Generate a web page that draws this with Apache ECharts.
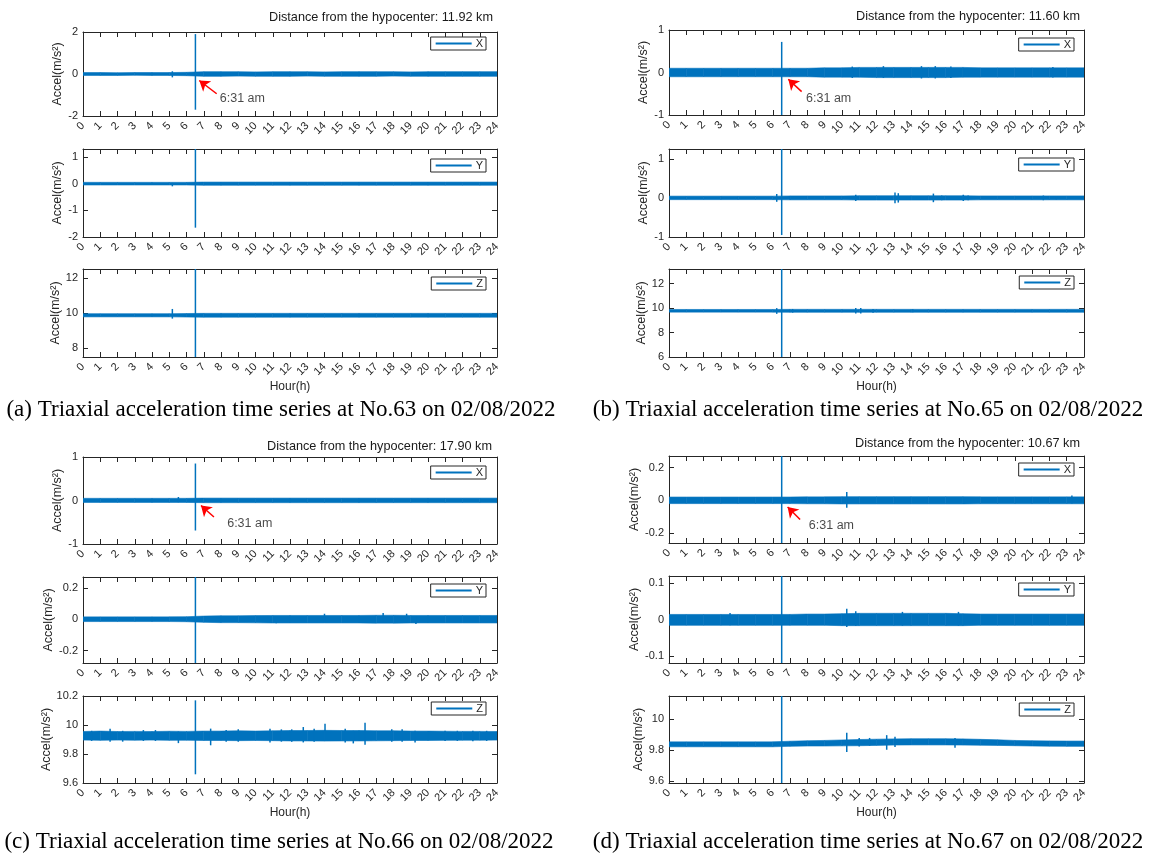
<!DOCTYPE html>
<html><head><meta charset="utf-8">
<script src="https://cdn.jsdelivr.net/npm/echarts@6/dist/echarts.min.js"></script>
<style>html,body{margin:0;padding:0;background:#fff}#c{width:1159px;height:857px}</style>
</head><body><div id="c"></div>
<script>
// ---------------- DATA ----------------
const HOURS = [0,1,2,3,4,5,6,7,8,9,10,11,12,13,14,15,16,17,18,19,20,21,22,23,24];
const X_TICKS = [0,1,2,3,4,5,6,7,8,9,10,11,12,13,14,15,16,17,18,19,20,21,22,23,24];

// Station No.63
const A_X_UP = [0.07,0.07,0.06,0.07,0.07,0.07,0.08,0.11,0.11,0.11,0.10,0.11,0.11,0.11,0.10,0.11,0.11,0.11,0.11,0.10,0.11,0.11,0.11,0.11,0.11];
const A_X_LO = [-0.07,-0.07,-0.07,-0.06,-0.07,-0.07,-0.08,-0.11,-0.11,-0.10,-0.11,-0.11,-0.11,-0.10,-0.11,-0.11,-0.11,-0.11,-0.10,-0.11,-0.11,-0.11,-0.11,-0.11,-0.11];
const A_X_BURSTS = [[5.18,-0.16,0.13],[6.517,-1.7,1.9]];
const A_Y_UP = [0.05,0.05,0.05,0.05,0.05,0.05,0.05,0.06,0.06,0.06,0.06,0.06,0.06,0.06,0.06,0.06,0.06,0.06,0.06,0.06,0.06,0.06,0.06,0.06,0.06];
const A_Y_LO = [-0.05,-0.05,-0.05,-0.05,-0.05,-0.05,-0.05,-0.06,-0.06,-0.06,-0.06,-0.06,-0.06,-0.06,-0.06,-0.06,-0.06,-0.06,-0.06,-0.06,-0.06,-0.06,-0.06,-0.06,-0.06];
const A_Y_BURSTS = [[5.18,-0.1,0.03],[6.517,-1.65,1.3]];
const A_Z_UP = [9.96,9.96,9.96,9.96,9.96,9.96,9.97,9.98,9.98,9.98,9.98,9.98,9.98,9.98,9.98,9.98,9.98,9.98,9.98,9.98,9.98,9.98,9.98,9.98,9.98];
const A_Z_LO = [9.78,9.78,9.78,9.78,9.78,9.78,9.77,9.76,9.76,9.76,9.76,9.76,9.76,9.76,9.76,9.76,9.76,9.76,9.76,9.76,9.76,9.76,9.76,9.76,9.76];
const A_Z_BURSTS = [[5.18,9.68,10.23],[6.517,7.5,12.5]];

// Station No.65
const B_X_UP = [0.10,0.10,0.10,0.10,0.10,0.10,0.10,0.10,0.10,0.11,0.11,0.12,0.12,0.12,0.12,0.12,0.12,0.12,0.11,0.11,0.11,0.11,0.11,0.11,0.11];
const B_X_LO = [-0.10,-0.10,-0.10,-0.10,-0.10,-0.10,-0.10,-0.10,-0.10,-0.11,-0.11,-0.11,-0.12,-0.12,-0.12,-0.12,-0.12,-0.11,-0.11,-0.11,-0.11,-0.11,-0.11,-0.11,-0.11];
const B_X_BURSTS = [[6.517,-1.0,0.72],[10.6,-0.13,0.14],[12.4,-0.13,0.15],[14.6,-0.14,0.15],[15.4,-0.14,0.15],[16.3,-0.13,0.14],[22.2,-0.12,0.13]];
const B_Y_UP = [0.045,0.045,0.045,0.045,0.045,0.045,0.045,0.05,0.05,0.05,0.05,0.055,0.055,0.055,0.055,0.055,0.055,0.055,0.05,0.05,0.05,0.05,0.05,0.05,0.05];
const B_Y_LO = [-0.045,-0.045,-0.045,-0.045,-0.045,-0.045,-0.045,-0.05,-0.05,-0.05,-0.05,-0.055,-0.055,-0.055,-0.055,-0.055,-0.055,-0.055,-0.05,-0.05,-0.05,-0.05,-0.05,-0.05,-0.05];
const B_Y_BURSTS = [[6.23,-0.1,0.1],[6.517,-0.95,1.25],[10.8,-0.08,0.08],[13.07,-0.14,0.14],[13.26,-0.12,0.12],[15.29,-0.11,0.11],[15.77,-0.06,0.06],[17.02,-0.08,0.08],[17.3,-0.06,0.06],[21.65,-0.06,0.06],[22.4,-0.04,0.04]];
const B_Z_UP = [9.89,9.89,9.89,9.89,9.89,9.89,9.89,9.9,9.9,9.9,9.9,9.9,9.9,9.9,9.9,9.9,9.9,9.9,9.9,9.9,9.9,9.9,9.9,9.9,9.9];
const B_Z_LO = [9.67,9.67,9.67,9.67,9.67,9.67,9.67,9.66,9.66,9.66,9.66,9.66,9.66,9.66,9.66,9.66,9.66,9.66,9.66,9.66,9.66,9.66,9.66,9.66,9.66];
const B_Z_BURSTS = [[6.23,9.53,10.0],[6.517,6.0,13.2],[7.15,9.63,9.93],[10.8,9.55,10.0],[11.09,9.55,10.0],[11.8,9.63,9.93],[14.1,9.66,9.9]];

// Station No.66
const C_X_UP = [0.05,0.05,0.05,0.05,0.05,0.05,0.05,0.055,0.055,0.055,0.055,0.055,0.055,0.055,0.055,0.055,0.055,0.055,0.055,0.055,0.055,0.055,0.055,0.055,0.055];
const C_X_LO = [-0.045,-0.045,-0.045,-0.045,-0.045,-0.045,-0.045,-0.05,-0.05,-0.05,-0.05,-0.05,-0.05,-0.05,-0.05,-0.05,-0.05,-0.05,-0.05,-0.05,-0.05,-0.05,-0.05,-0.05,-0.05];
const C_X_BURSTS = [[5.53,-0.04,0.08],[6.517,-0.69,0.85]];
const C_Y_UP = [0.015,0.015,0.015,0.015,0.015,0.015,0.016,0.02,0.022,0.022,0.023,0.024,0.024,0.024,0.024,0.024,0.024,0.025,0.025,0.024,0.024,0.024,0.024,0.024,0.024];
const C_Y_LO = [-0.015,-0.015,-0.015,-0.015,-0.015,-0.015,-0.016,-0.02,-0.022,-0.022,-0.023,-0.024,-0.024,-0.024,-0.024,-0.024,-0.024,-0.025,-0.025,-0.024,-0.024,-0.024,-0.024,-0.024,-0.024];
const C_Y_BURSTS = [[6.517,-0.28,0.27],[11.2,-0.026,0.02],[14.0,-0.02,0.035],[17.4,-0.02,0.04],[18.76,-0.02,0.035],[19.3,-0.03,0.02]];
const C_Z_UP = [9.955,9.958,9.955,9.956,9.955,9.957,9.956,9.958,9.958,9.96,9.958,9.96,9.962,9.962,9.963,9.962,9.962,9.96,9.96,9.958,9.958,9.957,9.956,9.956,9.955];
const C_Z_LO = [9.896,9.894,9.896,9.895,9.896,9.894,9.895,9.893,9.893,9.892,9.893,9.892,9.89,9.89,9.889,9.89,9.89,9.891,9.892,9.893,9.893,9.894,9.895,9.895,9.896];
const C_Z_BURSTS = [[0.5,9.89,9.96],[1.57,9.884,9.975],[2.3,9.885,9.96],[3.5,9.89,9.965],[4.2,9.89,9.965],[5.53,9.875,9.955],[6.517,9.66,10.17],[7.4,9.86,9.975],[8.3,9.885,9.965],[9.0,9.884,9.97],[10.84,9.88,9.975],[11.5,9.885,9.97],[12.1,9.884,9.97],[12.77,9.88,9.986],[13.4,9.885,9.975],[14.03,9.89,10.009],[15.2,9.88,9.975],[15.67,9.873,9.96],[16.35,9.864,10.016],[17.9,9.884,9.97],[18.5,9.885,9.97],[19.25,9.88,9.96],[20.99,9.89,9.96],[21.7,9.89,9.96],[22.6,9.888,9.96],[23.4,9.89,9.96]];

// Station No.67
const D_X_UP = [0.02,0.02,0.02,0.02,0.02,0.02,0.02,0.02,0.021,0.021,0.022,0.022,0.022,0.022,0.022,0.022,0.022,0.022,0.021,0.021,0.021,0.021,0.021,0.021,0.021];
const D_X_LO = [-0.02,-0.02,-0.02,-0.02,-0.02,-0.02,-0.02,-0.02,-0.021,-0.021,-0.022,-0.022,-0.022,-0.022,-0.022,-0.022,-0.022,-0.022,-0.021,-0.021,-0.021,-0.021,-0.021,-0.021,-0.021];
const D_X_BURSTS = [[6.517,-0.26,0.27],[10.28,-0.045,0.051],[23.3,-0.02,0.03]];
const D_Y_UP = [0.014,0.014,0.014,0.014,0.014,0.014,0.014,0.014,0.015,0.015,0.016,0.017,0.017,0.017,0.017,0.017,0.017,0.016,0.015,0.015,0.015,0.015,0.015,0.015,0.015];
const D_Y_LO = [-0.016,-0.016,-0.016,-0.016,-0.016,-0.016,-0.016,-0.016,-0.016,-0.016,-0.017,-0.017,-0.017,-0.017,-0.017,-0.017,-0.017,-0.017,-0.016,-0.016,-0.016,-0.016,-0.016,-0.016,-0.016];
const D_Y_BURSTS = [[3.53,-0.016,0.018],[6.517,-0.12,0.12],[10.28,-0.021,0.03],[10.8,-0.017,0.023],[13.5,-0.017,0.021],[16.74,-0.017,0.021]];
const D_Z_UP = [9.855,9.855,9.855,9.855,9.855,9.855,9.855,9.859,9.862,9.864,9.867,9.87,9.872,9.874,9.875,9.875,9.875,9.874,9.871,9.868,9.864,9.862,9.861,9.86,9.86];
const D_Z_LO = [9.823,9.823,9.823,9.823,9.823,9.823,9.823,9.826,9.828,9.828,9.829,9.83,9.832,9.834,9.835,9.835,9.835,9.834,9.833,9.832,9.83,9.828,9.827,9.826,9.826];
const D_Z_BURSTS = [[6.517,9.59,10.15],[10.28,9.789,9.913],[11.0,9.825,9.88],[11.6,9.83,9.88],[12.59,9.804,9.898],[13.07,9.822,9.887],[16.54,9.817,9.88]];

// axis ranges and tick labels
const Y_RANGES = [[-2,2],[-2,1.3],[7.5,12.5],[-1,1],[-1,1.25],[6,13.2],[-1,1],[-0.28,0.27],[9.6,10.2],[-0.26,0.27],[-0.12,0.12],[9.59,10.15]];
const Y_TICKS = [[-2,0,2],[-2,-1,0,1],[8,10,12],[-1,0,1],[-1,0,1],[6,8,10,12],[-1,0,1],[-0.2,0,0.2],[9.6,9.8,10,10.2],[-0.2,0,0.2],[-0.1,0,0.1],[9.6,9.8,10]];
const AXIS_NAMES = ['X','Y','Z','X','Y','Z','X','Y','Z','X','Y','Z'];
const DISTANCES = ['11.92','11.60','17.90','10.67'];
const STATIONS = ['63','65','66','67'];
const PANEL_LETTERS = ['a','b','c','d'];
const QUAKE_LABEL = '6:31 am';
// annotation arrows [tailHour, tailValue, headHour, headValue], label anchor [hour, value]
const ARROWS = [[7.75,-0.94,6.74,-0.31],[7.67,-0.45,6.9,-0.16],[7.59,-0.38,6.84,-0.115],[7.58,-0.117,6.86,-0.041]];
const ARROW_LABELS = [[7.9,-1.18],[7.9,-0.61],[8.33,-0.54],[8.06,-0.152]];

const UPS = [A_X_UP,A_Y_UP,A_Z_UP,B_X_UP,B_Y_UP,B_Z_UP,C_X_UP,C_Y_UP,C_Z_UP,D_X_UP,D_Y_UP,D_Z_UP];
const LOS = [A_X_LO,A_Y_LO,A_Z_LO,B_X_LO,B_Y_LO,B_Z_LO,C_X_LO,C_Y_LO,C_Z_LO,D_X_LO,D_Y_LO,D_Z_LO];
const BURSTS = [A_X_BURSTS,A_Y_BURSTS,A_Z_BURSTS,B_X_BURSTS,B_Y_BURSTS,B_Z_BURSTS,C_X_BURSTS,C_Y_BURSTS,C_Z_BURSTS,D_X_BURSTS,D_Y_BURSTS,D_Z_BURSTS];

// ---------------- LAYOUT / STYLE ----------------
const COLOR = '#0072BD';
const AXC = '#262626';
const FONT = '"Liberation Sans", Arial, sans-serif';
const SERIF = '"Liberation Serif", "Times New Roman", serif';
const GRIDS = [
  {left:83, top:32, width:414, height:84, nameGap:16, legTop:5},
  {left:83, top:149, width:414, height:88, nameGap:16, legTop:10},
  {left:83, top:269, width:414, height:88, nameGap:18, legTop:8},
  {left:669, top:30, width:415, height:85, nameGap:14, legTop:8},
  {left:669, top:149, width:415, height:88, nameGap:14, legTop:9},
  {left:669, top:269, width:415, height:88, nameGap:15, legTop:7},
  {left:83, top:457, width:414, height:87, nameGap:16, legTop:9},
  {left:83, top:577, width:414, height:86, nameGap:24, legTop:7},
  {left:83, top:696, width:414, height:87, nameGap:28, legTop:6},
  {left:669, top:456, width:415, height:87, nameGap:24, legTop:7},
  {left:669, top:576, width:415, height:87, nameGap:24, legTop:7},
  {left:669, top:696, width:415, height:87, nameGap:17, legTop:7}
];
const DIST_POS = [[493,17],[1080,16],[492,446],[1080,443]];
const CAPTION_POS = [[281,410],[868,410],[279,842],[868,842]];

function bandItem(params, api) {
  const p0 = api.coord([api.value(0), api.value(1)]);
  const p1 = api.coord([api.value(0), api.value(2)]);
  const p2 = api.coord([api.value(3), api.value(5)]);
  const p3 = api.coord([api.value(3), api.value(4)]);
  return {type:'polygon', shape:{points:[p0,p1,p2,p3]}, style:{fill:COLOR, stroke:COLOR, lineWidth:0.6}};
}
function burstItem(params, api) {
  const a = api.coord([api.value(0), api.value(1)]);
  const b = api.coord([api.value(0), api.value(2)]);
  return {type:'line', shape:{x1:a[0], y1:a[1], x2:b[0], y2:b[1]}, style:{stroke:COLOR, lineWidth:1.5}};
}

const option = {animation:false, grid:[], xAxis:[], yAxis:[], series:[], legend:[], graphic:[]};

GRIDS.forEach((g, i) => {
  option.grid.push({left:g.left, top:g.top, width:g.width, height:g.height, outerBoundsMode:'none', containLabel:false});
  const isBottom = (i % 3) === 2;
  const axLine = {show:true, onZero:false, lineStyle:{color:AXC, width:1}};
  option.xAxis.push({
    gridIndex:i, type:'value', min:0, max:24, interval:1, position:'bottom',
    axisLine:axLine, axisTick:{show:true, inside:true, length:5, lineStyle:{color:AXC}},
    axisLabel:{rotate:45, fontSize:11, color:AXC, margin:8, fontFamily:FONT, customValues:X_TICKS},
    splitLine:{show:false},
    name: isBottom ? 'Hour(h)' : '', nameLocation:'middle', nameGap:24,
    nameTextStyle:{fontSize:12, color:AXC, fontFamily:FONT}
  });
  option.xAxis.push({
    gridIndex:i, type:'value', min:0, max:24, interval:1, position:'top',
    axisLine:axLine, axisTick:{show:true, inside:true, length:5, lineStyle:{color:AXC}},
    axisLabel:{show:false}, splitLine:{show:false}
  });
  const r = Y_RANGES[i], t = Y_TICKS[i];
  option.yAxis.push({
    gridIndex:i, type:'value', min:r[0], max:r[1], position:'left',
    axisLine:axLine, axisTick:{show:true, inside:true, length:5, customValues:t, lineStyle:{color:AXC}},
    axisLabel:{customValues:t, fontSize:11, color:AXC, margin:5, fontFamily:FONT},
    splitLine:{show:false},
    name:'Accel(m/s²)', nameLocation:'middle', nameRotate:90, nameGap:g.nameGap,
    nameTextStyle:{fontSize:12.5, color:AXC, fontFamily:FONT}
  });
  option.yAxis.push({
    gridIndex:i, type:'value', min:r[0], max:r[1], position:'right',
    axisLine:axLine, axisTick:{show:true, inside:true, length:5, customValues:t, lineStyle:{color:AXC}},
    axisLabel:{show:false}, splitLine:{show:false}
  });
  const up = UPS[i], lo = LOS[i];
  const band = [];
  for (let k = 0; k < HOURS.length - 1; k++) {
    band.push([HOURS[k], lo[k], up[k], HOURS[k+1], lo[k+1], up[k+1]]);
  }
  option.series.push({
    type:'custom', name:AXIS_NAMES[i], xAxisIndex:2*i, yAxisIndex:2*i, clip:true, silent:true,
    renderItem:bandItem, data:band, encode:{x:[0,3], y:[1,2,4,5]}, itemStyle:{color:COLOR}
  });
  option.series.push({
    type:'custom', name:AXIS_NAMES[i] + '_bursts', xAxisIndex:2*i, yAxisIndex:2*i, clip:true, silent:true,
    renderItem:burstItem, data:BURSTS[i], encode:{x:0, y:[1,2]}, itemStyle:{color:COLOR}
  });
  const boxRight = g.left + g.width - (g.left < 600 ? 11 : 10);
  option.legend.push({
    data:[AXIS_NAMES[i]], selectedMode:false, orient:'horizontal',
    right: 1159 - boxRight, top: g.top + g.legTop,
    icon:'rect', itemWidth:36, itemHeight:2, itemGap:0,
    borderColor:AXC, borderWidth:1, borderRadius:0, padding:[1,3,1,5],
    backgroundColor:'#fff',
    textStyle:{fontSize:11, color:AXC, fontFamily:FONT, padding:[0,0,0,-1]}
  });
});

// quake annotation arrows on X subplots
[0,1,2,3].forEach(p => {
  const gi = p * 3;
  const a = ARROWS[p], l = ARROW_LABELS[p];
  option.series.push({
    type:'lines', coordinateSystem:'cartesian2d', xAxisIndex:2*gi, yAxisIndex:2*gi, silent:true,
    symbol:['none','arrow'], symbolSize:10, z:5,
    lineStyle:{color:'#FF0000', width:1.5, opacity:1},
    data:[{coords:[[a[0],a[1]],[a[2],a[3]]]}]
  });
  option.series.push({
    type:'scatter', xAxisIndex:2*gi, yAxisIndex:2*gi, silent:true, symbolSize:1,
    itemStyle:{color:'rgba(0,0,0,0)'}, z:5,
    label:{show:true, position:'right', distance:0, formatter:QUAKE_LABEL, fontSize:12.5, color:'#1a1a1a', fontFamily:FONT},
    data:[[l[0], l[1]]]
  });
  option.graphic.push({
    type:'text', x:DIST_POS[p][0], y:DIST_POS[p][1],
    style:{text:'Distance from the hypocenter: ' + DISTANCES[p] + ' km', fill:'#1a1a1a', font:'12.7px ' + FONT, textAlign:'right', textVerticalAlign:'middle'}
  });
  option.graphic.push({
    type:'text', x:CAPTION_POS[p][0], y:CAPTION_POS[p][1],
    style:{text:'(' + PANEL_LETTERS[p] + ') Triaxial acceleration time series at No.' + STATIONS[p] + ' on 02/08/2022', fill:'#000', font:'23px ' + SERIF, textAlign:'center', textVerticalAlign:'middle'}
  });
});

const chart = echarts.init(document.getElementById('c'), null, {renderer:'canvas'});
chart.setOption(option);
</script>
</body></html>
